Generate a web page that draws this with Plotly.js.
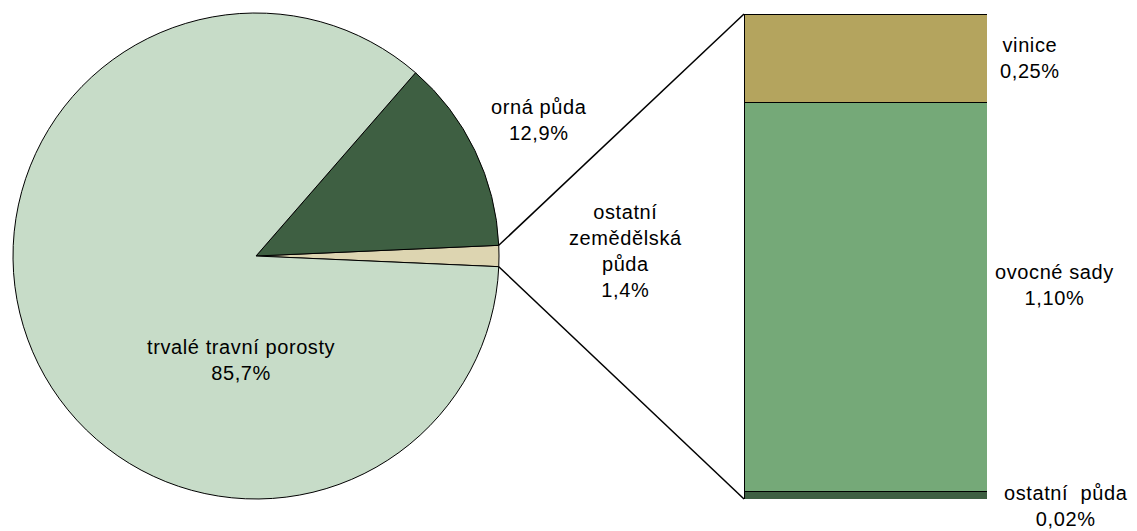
<!DOCTYPE html>
<html>
<head>
<meta charset="utf-8">
<script src="https://cdn.plot.ly/plotly-3.0.1.min.js"></script>
<style>
  body { margin: 0; background: #fff; }
  #chart { width: 1137px; height: 531px; }
  .annotation-text { letter-spacing: 0.6px; }
</style>
</head>
<body>
<div id="chart"></div>
<script>
// pie data (share of agricultural land, %)
let pieLabels = ["ostatní zemědělská půda", "orná půda", "trvalé travní porosty"];
let pieValues = [1.4, 12.9, 85.7];
let pieColors = ["#ddd5b1", "#3e5f42", "#c7dcc8"];

// breakdown of "ostatní zemědělská půda"
let barLabels = ["ostatní  půda", "ovocné sady", "vinice"];
let barValues = [0.02, 1.10, 0.25];
let barColors = ["#3e5f42", "#75a978", "#b4a45e"];

const W = 1137, H = 531;
const px = (v) => v / W;
const py = (v) => (H - v) / H;

let font = { family: "Liberation Sans, Arial, sans-serif", size: 20, color: "#000" };
let fmt = (v, d) => v.toFixed(d).replace(".", ",") + "%";

// pie geometry in pixels
let cx = 256, cy = 256, r = 243;
let barLeft = 744, barRight = 987, barTop = 14, barBottom = 499;

let pieTotal = pieValues.reduce((a, b) => a + b, 0);
let halfAngle = (pieValues[0] / pieTotal) * Math.PI; // half of the first slice, radians

// counterclockwise: first slice spans [rotation, rotation + size] clockwise from 12 o'clock
let pieTrace = {
  type: "pie",
  labels: pieLabels,
  values: pieValues,
  sort: false,
  direction: "counterclockwise",
  rotation: 90 - (halfAngle * 180) / Math.PI,
  marker: { colors: pieColors, line: { color: "#000", width: 1 } },
  textinfo: "none",
  hoverinfo: "none",
  showlegend: false,
  domain: { x: [px(13), px(499)], y: [py(499), py(13)] },
};

let barTraces = barLabels.map((lab, i) => ({
  type: "bar",
  x: ["x"],
  y: [barValues[i]],
  name: lab,
  marker: { color: barColors[i], line: { color: "#000", width: 1 } },
  hoverinfo: "none",
  showlegend: false,
}));

let barTotal = barValues.reduce((a, b) => a + b, 0);

// connector lines from the small slice edges to the bar
let ex = cx + r * Math.cos(halfAngle);
let eyTop = cy - r * Math.sin(halfAngle);
let eyBot = cy + r * Math.sin(halfAngle);

let shapes = [
  { type: "line", xref: "paper", yref: "paper", x0: px(ex), y0: py(eyTop), x1: px(barLeft), y1: py(barTop), line: { color: "#000", width: 1.5 } },
  { type: "line", xref: "paper", yref: "paper", x0: px(ex), y0: py(eyBot), x1: px(barLeft), y1: py(barBottom), line: { color: "#000", width: 1.5 } },
];

let ann = (text, x, y) => ({
  text: text, xref: "paper", yref: "paper", x: px(x), y: py(y),
  showarrow: false, font: font, align: "center",
  xanchor: "center", yanchor: "middle",
});

let annotations = [
  ann(pieLabels[1] + "<br>" + fmt(pieValues[1], 1), 539, 120),
  ann("ostatní<br>zemědělská<br>půda<br>" + fmt(pieValues[0], 1), 625, 251),
  ann(pieLabels[2] + "<br>" + fmt(pieValues[2], 1), 241, 360),
  ann(barLabels[2] + "<br>" + fmt(barValues[2], 2), 1030, 58),
  ann(barLabels[1] + "<br>" + fmt(barValues[1], 2), 1054, 285),
  ann(barLabels[0].replace("  ", "&nbsp; ") + "<br>" + fmt(barValues[0], 2), 1066, 506),
];

let layout = {
  width: W,
  height: H,
  margin: { l: 0, r: 0, t: 0, b: 0 },
  paper_bgcolor: "#fff",
  plot_bgcolor: "rgba(0,0,0,0)",
  barmode: "stack",
  bargap: 0,
  font: font,
  xaxis: { domain: [px(barLeft), px(barRight)], visible: false, fixedrange: true },
  yaxis: { domain: [py(barBottom), py(barTop)], range: [0, barTotal], visible: false, fixedrange: true },
  shapes: shapes,
  annotations: annotations,
};

Plotly.newPlot("chart", [pieTrace, ...barTraces], layout, { displayModeBar: false, staticPlot: true });
</script>
</body>
</html>
